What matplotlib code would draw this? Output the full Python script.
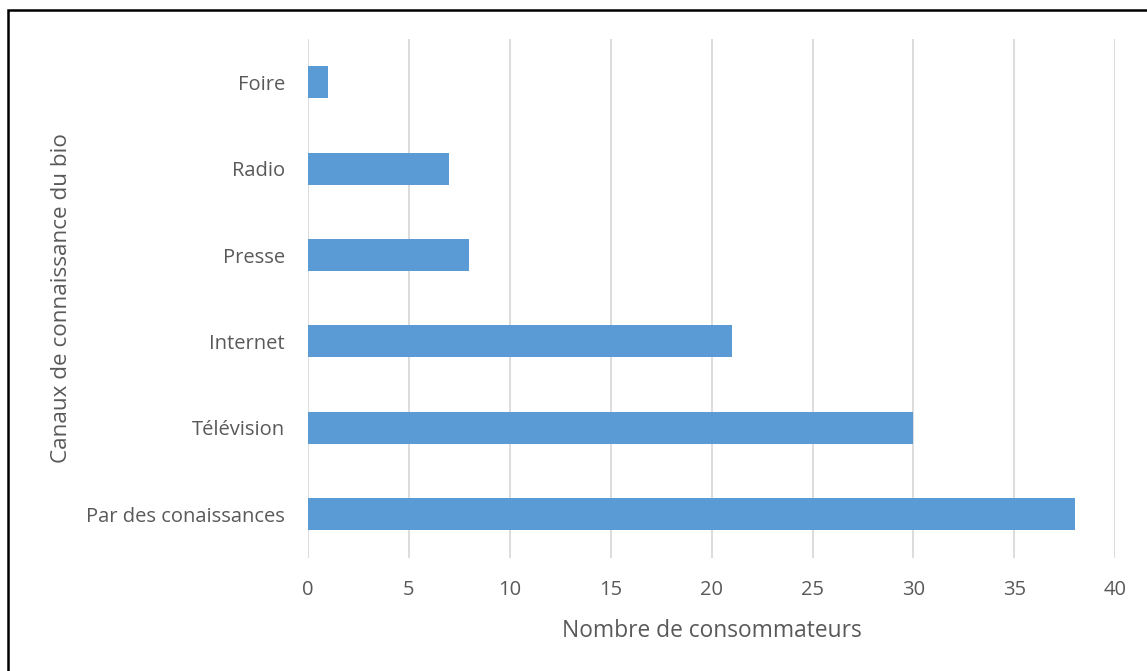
import matplotlib
matplotlib.use("Agg")
import matplotlib.pyplot as plt
from matplotlib.patches import Rectangle

categories = ["Par des conaissances", "Télévision", "Internet", "Presse", "Radio", "Foire"]
counts = [38, 30, 21, 8, 7, 1]
xticks = [0, 5, 10, 15, 20, 25, 30, 35, 40]

bar_color = "#5B9BD5"
grid_color = "#D9D9D9"
text_color = "#595959"

plt.rcParams["font.family"] = ["Open Sans", "DejaVu Sans"]

W, H = 1147, 671
fig = plt.figure(figsize=(W / 100, H / 100), dpi=100)
ax = fig.add_axes([308 / W, 1 - 557.5 / H, (1115.3 - 308) / W, (557.5 - 39) / H])

ax.barh(range(len(categories)), counts, height=0.37, color=bar_color, zorder=3)
ax.set_ylim(-0.5, len(categories) - 0.5)
ax.set_xlim(0, 40)
ax.set_xticks(xticks)
ax.set_yticks(range(len(categories)))
ax.set_yticklabels(categories)

ax.grid(axis="x", color=grid_color, linewidth=1.3, zorder=0)
for s in ax.spines.values():
    s.set_visible(False)
ax.tick_params(axis="both", length=0, labelsize=14.5, colors=text_color)
ax.tick_params(axis="y", pad=16.5)
ax.tick_params(axis="x", pad=16)

ax.set_xlabel("Nombre de consommateurs", fontsize=16.4, color=text_color, labelpad=14)
ax.set_ylabel("Canaux de connaissance du bio", fontsize=16.2, color=text_color)
ax.yaxis.set_label_coords(-(308 - 72) / (1115.3 - 308), 0.5)

# outer frame (only left and top edges are visible in the image)
fig.patches.append(Rectangle((8 / W, -0.1), 1.2, 1.1 - 10 / H,
                             transform=fig.transFigure, fill=False,
                             edgecolor="black", linewidth=1.8))

fig.savefig("out.png", dpi=100)
